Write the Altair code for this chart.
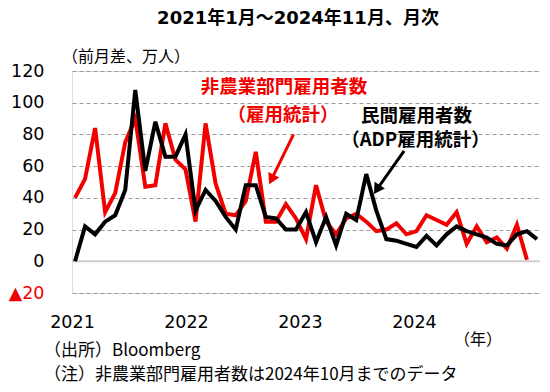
import altair as alt
import pandas as pd

# ---- data (万人, 前月差) ----
nfp = [40, 52, 84, 31, 43, 75, 90, 47, 48, 87, 64, 58,
       25, 87, 49, 30, 29, 38, 69, 25, 25, 36, 27, 14,
       48, 25, 17, 27, 30, 25, 19, 20, 24, 17, 19, 29,
       26, 23, 31, 11, 22, 12, 15, 8, 23, 1]
adp = [0, 22, 17, 25, 29, 45, 108, 57, 88, 66, 66, 80,
       32, 45, 38, 28, 20, 48, 48, 28, 27, 20, 20, 31,
       12, 28, 10, 30, 26, 55, 32, 14, 13, 11, 9, 16,
       10, 17, 22, 19, 17, 15, 11, 10, 17, 19, 14]
months = pd.date_range("2021-01-01", periods=len(adp), freq="MS").strftime("%Y-%m").tolist()
year_labels = ["2021", "2022", "2023", "2024"]
year_tick_pos = [-0.3, 11.05, 22.4, 33.75]
y_ticks = [-20, 0, 20, 40, 60, 80, 100, 120]

RED = "#f20000"
JP = "Noto Sans CJK JP"
NUM = "DejaVu Sans"
MIX = "DejaVu Sans, Noto Sans CJK JP"

rows = []
for i, v in enumerate(nfp):
    rows.append({"idx": i, "month": months[i], "series": "非農業部門雇用者数", "value": v})
for i, v in enumerate(adp):
    rows.append({"idx": i, "month": months[i], "series": "民間雇用者数", "value": v})
df = pd.DataFrame(rows)

label_expr = " : ".join(
    [f"datum.value < {p + 1} ? '{lab}'" for p, lab in zip(year_tick_pos[:-1], year_labels[:-1])]
) + f" : '{year_labels[-1]}'"

x_scale = alt.Scale(domain=[-0.3, 46.3], nice=False, zero=False)
y_scale = alt.Scale(domain=[-20, 120], nice=False, zero=False)

x_axis = alt.Axis(values=year_tick_pos, labelExpr=label_expr, ticks=False, title=None,
                  domain=False, grid=False, labelFont=NUM, labelFontSize=17.5,
                  labelColor="black", labelPadding=20, labelFlush=False, labelOverlap=False)
y_axis = alt.Axis(values=y_ticks, ticks=False, domain=False, title=None,
                  labelExpr="datum.value < 0 ? '▲' + abs(datum.value) : datum.label",
                  labelColor=alt.condition("datum.value < 0", alt.value(RED), alt.value("black")),
                  labelFont=NUM, labelFontSize=17.5, labelPadding=28,
                  labelOverlap=False, labelFlush=False, labelBound=False,
                  gridColor="#9a9a9a", gridDash=[4, 3], gridWidth=1)

lines = alt.Chart(df).mark_line(strokeWidth=4, strokeJoin="miter").encode(
    x=alt.X("idx:Q", scale=x_scale, axis=x_axis),
    y=alt.Y("value:Q", scale=y_scale, axis=y_axis),
    color=alt.Color("series:N", scale=alt.Scale(domain=["非農業部門雇用者数", "民間雇用者数"],
                                                range=[RED, "black"]), legend=None),
    order=alt.Order("idx:Q"),
)

zero_rule = alt.Chart(pd.DataFrame({"v": [0]})).mark_rule(color="#cfcfcf", strokeWidth=2).encode(
    y=alt.Y("v:Q", scale=y_scale, axis=y_axis)
)

# annotations (data coordinates)
ann = pd.DataFrame([
    {"x": 20.8, "y": 110, "t": "非農業部門雇用者数", "c": RED},
    {"x": 20.7, "y": 92.5, "t": "（雇用統計）", "c": RED},
    {"x": 34.0, "y": 91.5, "t": "民間雇用者数", "c": "black"},
    {"x": 33.9, "y": 76.5, "t": "（ADP雇用統計）", "c": "black"},
])
ann_text = alt.Chart(ann).mark_text(font=JP, fontSize=18.5, fontWeight="bold", baseline="middle").encode(
    x=alt.X("x:Q", scale=x_scale, axis=x_axis), y=alt.Y("y:Q", scale=y_scale, axis=y_axis), text="t:N",
    color=alt.Color("c:N", scale=None)
)

arrows = pd.DataFrame([
    {"x": 21.76, "y": 80.0, "x2": 19.64, "y2": 52.6, "c": RED, "a": 206},
    {"x": 32.77, "y": 69.6, "x2": 30.15, "y2": 46.2, "c": "black", "a": 213},
])
arrow_line = alt.Chart(arrows).mark_rule(strokeWidth=3).encode(
    x=alt.X("x:Q", scale=x_scale, axis=x_axis), y=alt.Y("y:Q", scale=y_scale, axis=y_axis),
    x2="x2:Q", y2="y2:Q", color=alt.Color("c:N", scale=None)
)
arrow_head = alt.Chart(arrows).mark_point(shape="triangle", filled=True, size=150, opacity=1).encode(
    x=alt.X("x2:Q", scale=x_scale, axis=x_axis), y=alt.Y("y2:Q", scale=y_scale, axis=y_axis),
    color=alt.Color("c:N", scale=None), angle=alt.Angle("a:Q", scale=None)
)

def label(text, x, y, size, align="left", weight="normal", font=JP):
    return alt.Chart(pd.DataFrame({"t": [text]})).mark_text(
        font=font, fontSize=size, fontWeight=weight, align=align, baseline="middle", color="black"
    ).encode(x=alt.value(x), y=alt.value(y), text="t:N")

title = label("2021年1月～2024年11月、月次", 226, -52, 18, align="center", weight="bold", font=MIX)
unit = label("（前月差、万人）", -10, -14, 16)
nen = label("（年）", 406, 269, 16, align="center")
src = label("（出所）Bloomberg", -28, 280, 17)
note = label("（注）非農業部門雇用者数は2024年10月までのデータ", -28, 304, 17)

chart = alt.layer(
    zero_rule, lines, arrow_line, arrow_head, ann_text, title, unit, nen, src, note
).properties(
    width=468, height=222,
    autosize=alt.AutoSizeParams(type="none"),
    padding={"left": 64, "top": 63, "right": 0, "bottom": 91},
).configure_view(stroke="#c4c4c4", strokeWidth=1.5).configure_axis(
    labelOverlap=False
).configure(background="white")

chart.save("out.html", embed_options={"renderer": "svg", "actions": False})
